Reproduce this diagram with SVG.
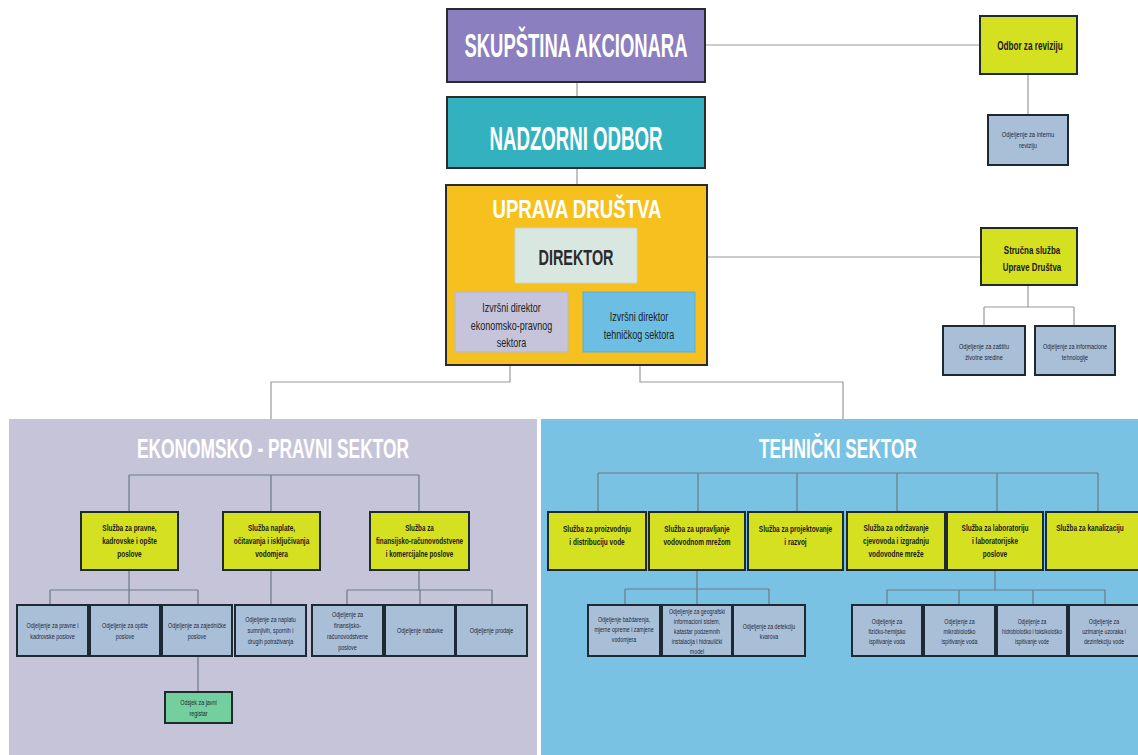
<svg xmlns="http://www.w3.org/2000/svg" width="1138" height="755" viewBox="0 0 1138 755">
<style>
.big{stroke:#2b2b2b;stroke-width:2}
.svc{fill:#d5e020;stroke:#1e2a2e;stroke-width:2}
.odj{fill:#a9bfd8;stroke:#1e2a33;stroke-width:2}
.ln{fill:none;stroke:#9a9a9a;stroke-width:1.2}
.lp{fill:none;stroke:#6c7b86;stroke-width:1.2}
.t{font-family:"Liberation Sans",Arial,sans-serif;text-anchor:middle}
.title{font-family:"Liberation Sans",Arial,sans-serif;font-weight:bold;text-anchor:middle;fill:#ffffff}
.st{font-family:"Liberation Sans",Arial,sans-serif;font-weight:bold;font-size:9px;fill:#1a1a1a;text-anchor:middle}
.ot{font-family:"Liberation Sans",Arial,sans-serif;font-size:7.5px;fill:#1d2738;text-anchor:middle}
.dt{font-family:"Liberation Sans",Arial,sans-serif;font-size:12px;fill:#222;text-anchor:middle}
.s12{font-size:12px}
.s11{font-size:11px}
.s8{font-size:8px}
</style>
<rect width="1138" height="755" fill="#ffffff"/>

<g id="panels">
<rect id="panel-ekonomsko" x="9" y="419" width="528" height="336" fill="#c6c4d8"/>
<rect id="panel-tehnicki" x="541" y="419" width="597" height="336" fill="#7ac2e3"/>
<text class="title" x="273" y="458" font-size="27" textLength="272" lengthAdjust="spacingAndGlyphs" fill="#f3f3f7">EKONOMSKO - PRAVNI SEKTOR</text>
<text class="title" x="838" y="458" font-size="27" textLength="158" lengthAdjust="spacingAndGlyphs" fill="#f3f3f7">TEHNIČKI SEKTOR</text>
</g>

<g id="connectors">
<path class="ln" d="M577 82V97M577 168V185M705 45H980M1028 74V115M637 257H981M1028 285V307M984 307H1074M984 307V326M1074 307V326"/>
<path class="ln" d="M510 352V382H271V419M640 352V382H843V419"/>
<path class="lp" d="M129 475H419M129 475V512M271 475V512M419 475V512"/>
<path class="lp" d="M129 570V605M50 590H198M50 590V605M198 590V605M198 656V692M271 570V605"/>
<path class="lp" d="M419 570V590M347 590H492M347 590V605M420 590V605M492 590V605"/>
<path class="lp" d="M598 473H1098M598 473V512M698 473V512M797 473V512M897 473V512M997 473V512M1098 473V512"/>
<path class="lp" d="M697 570V605M625 589H769M625 589V605M769 589V605"/>
<path class="lp" d="M995 570V590M887 590H1105M887 590V605M959 590V605M1033 590V605M1105 590V605"/>
</g>

<g id="skupstina">
<rect class="big" x="447" y="9" width="258" height="73" fill="#8c7fbf"/>
<text class="title" x="576" y="57" font-size="34" textLength="223" lengthAdjust="spacingAndGlyphs">SKUPŠTINA AKCIONARA</text>
</g>
<g id="nadzorni">
<rect class="big" x="447" y="97" width="258" height="71" fill="#33b1be"/>
<text class="title" x="576" y="150" font-size="33" textLength="173" lengthAdjust="spacingAndGlyphs">NADZORNI ODBOR</text>
</g>
<g id="uprava">
<rect class="big" x="446" y="185" width="261" height="180" fill="#f6c11e"/>
<text class="title" x="577" y="218" font-size="26" textLength="169" lengthAdjust="spacingAndGlyphs">UPRAVA DRUŠTVA</text>
</g>
<g id="direktor">
<rect x="515" y="228" width="122" height="55" fill="#d9e7e1" stroke="#c8d4cf" stroke-width="1"/>
<text class="t" x="576" y="265" font-size="22" font-weight="bold" fill="#2b2b2b" textLength="75" lengthAdjust="spacingAndGlyphs">DIREKTOR</text>
</g>
<g id="izvrsni-ek">
<rect x="455" y="292" width="113" height="60" fill="#c5c4da" stroke="#b8b7c9" stroke-width="1"/>
<g transform="translate(511.5 0) scale(0.75 1)"><text class="dt"><tspan x="0" y="312">Izvršni direktor</tspan><tspan x="0" y="330">ekonomsko-pravnog</tspan><tspan x="0" y="347">sektora</tspan></text></g>
</g>
<g id="izvrsni-teh">
<rect x="583" y="292" width="112" height="60" fill="#6cbee3" stroke="#5eaed2" stroke-width="1"/>
<g transform="translate(639 0) scale(0.75 1)"><text class="dt"><tspan x="0" y="321">Izvršni direktor</tspan><tspan x="0" y="339">tehničkog sektora</tspan></text></g>
</g>

<g id="odbor-revizija">
<rect class="svc" x="980" y="16" width="97" height="58"/>
<g transform="translate(1030 0) scale(0.68 1)"><text class="st s12" y="50" x="0">Odbor za reviziju</text></g>
</g>
<g id="interna-revizija">
<rect class="odj" x="988" y="115" width="80" height="50"/>
<g transform="translate(1028 0) scale(0.72 1)"><text class="ot s8"><tspan x="0" y="137">Odjeljenje za internu</tspan><tspan x="0" y="148">reviziju</tspan></text></g>
</g>
<g id="strucna-sluzba">
<rect class="svc" x="981" y="228" width="96" height="57"/>
<g transform="translate(1032 0) scale(0.72 1)"><text class="st s11"><tspan x="0" y="254">Stručna služba</tspan><tspan x="0" y="271">Uprave Društva</tspan></text></g>
</g>
<g id="zastita-sredine">
<rect class="odj" x="943" y="326" width="82" height="49"/>
<g transform="translate(984 0) scale(0.7 1)"><text class="ot s8"><tspan x="0" y="349">Odjeljenje za zaštitu</tspan><tspan x="0" y="360">životne sredine</tspan></text></g>
</g>
<g id="informacione-tehnologije">
<rect class="odj" x="1035" y="326" width="80" height="49"/>
<g transform="translate(1075 0) scale(0.68 1)"><text class="ot s8"><tspan x="0" y="349">Odjeljenje za informacione</tspan><tspan x="0" y="360">tehnologije</tspan></text></g>
</g>

<g id="sluzba-pravne">
<rect class="svc" x="81" y="512" width="97" height="58"/>
<g transform="translate(129.5 0) scale(0.72 1)"><text class="st"><tspan x="0" y="531">Služba za pravne,</tspan><tspan x="0" y="544">kadrovske i opšte</tspan><tspan x="0" y="557">poslove</tspan></text></g>
</g>
<g id="sluzba-naplate">
<rect class="svc" x="223" y="512" width="97" height="58"/>
<g transform="translate(271.5 0) scale(0.72 1)"><text class="st"><tspan x="0" y="531">Služba naplate,</tspan><tspan x="0" y="544">očitavanja i isključivanja</tspan><tspan x="0" y="557">vodomjera</tspan></text></g>
</g>
<g id="sluzba-finansije">
<rect class="svc" x="370" y="512" width="99" height="58"/>
<g transform="translate(419.5 0) scale(0.7 1)"><text class="st"><tspan x="0" y="531">Služba za</tspan><tspan x="0" y="544">finansijsko-računovodstvene</tspan><tspan x="0" y="557">i komercijalne poslove</tspan></text></g>
</g>

<g id="odj-pravne">
<rect class="odj" x="17" y="605" width="71" height="51"/>
<g transform="translate(52.5 0) scale(0.72 1)"><text class="ot"><tspan x="0" y="628">Odjeljenje za pravne i</tspan><tspan x="0" y="639">kadrovske poslove</tspan></text></g>
</g>
<g id="odj-opste">
<rect class="odj" x="90" y="605" width="70" height="51"/>
<g transform="translate(125 0) scale(0.72 1)"><text class="ot"><tspan x="0" y="628">Odjeljenje za opšte</tspan><tspan x="0" y="639">poslove</tspan></text></g>
</g>
<g id="odj-zajednicke">
<rect class="odj" x="162" y="605" width="70" height="51"/>
<g transform="translate(197 0) scale(0.72 1)"><text class="ot"><tspan x="0" y="628">Odjeljenje za zajedničke</tspan><tspan x="0" y="639">poslove</tspan></text></g>
</g>
<g id="odj-naplata">
<rect class="odj" x="235" y="605" width="71" height="51"/>
<g transform="translate(270.5 0) scale(0.72 1)"><text class="ot"><tspan x="0" y="622">Odjeljenje za naplatu</tspan><tspan x="0" y="633">sumnjivih, spornih i</tspan><tspan x="0" y="644">drugih potraživanja</tspan></text></g>
</g>
<g id="odj-finansijsko">
<rect class="odj" x="312" y="605" width="71" height="51"/>
<g transform="translate(347.5 0) scale(0.72 1)"><text class="ot"><tspan x="0" y="617">Odjeljenje za</tspan><tspan x="0" y="628">finansijsko-</tspan><tspan x="0" y="639">računovodstvene</tspan><tspan x="0" y="650">poslove</tspan></text></g>
</g>
<g id="odj-nabavke">
<rect class="odj" x="385" y="605" width="70" height="51"/>
<g transform="translate(420 0) scale(0.72 1)"><text class="ot" x="0" y="633">Odjeljenje nabavke</text></g>
</g>
<g id="odj-prodaje">
<rect class="odj" x="456" y="605" width="71" height="51"/>
<g transform="translate(491.5 0) scale(0.72 1)"><text class="ot" x="0" y="633">Odjeljenje prodaje</text></g>
</g>
<g id="odsjek-registar">
<rect x="165" y="692" width="67" height="31" fill="#74cf9e" stroke="#1e2a2e" stroke-width="2"/>
<g transform="translate(198.5 0) scale(0.72 1)"><text class="ot"><tspan x="0" y="705">Odsjek za javni</tspan><tspan x="0" y="716">registar</tspan></text></g>
</g>

<g id="sluzba-proizvodnja">
<rect class="svc" x="548" y="512" width="98" height="58"/>
<g transform="translate(597 0) scale(0.72 1)"><text class="st"><tspan x="0" y="532">Služba za proizvodnju</tspan><tspan x="0" y="545">i distribuciju vode</tspan></text></g>
</g>
<g id="sluzba-mreza">
<rect class="svc" x="649" y="512" width="96" height="58"/>
<g transform="translate(697 0) scale(0.72 1)"><text class="st"><tspan x="0" y="532">Služba za upravljanje</tspan><tspan x="0" y="545">vodovodnom mrežom</tspan></text></g>
</g>
<g id="sluzba-projektovanje">
<rect class="svc" x="748" y="512" width="95" height="58"/>
<g transform="translate(795.5 0) scale(0.72 1)"><text class="st"><tspan x="0" y="532">Služba za projektovanje</tspan><tspan x="0" y="545">i razvoj</tspan></text></g>
</g>
<g id="sluzba-odrzavanje">
<rect class="svc" x="847" y="512" width="98" height="58"/>
<g transform="translate(896 0) scale(0.72 1)"><text class="st"><tspan x="0" y="531">Služba za održavanje</tspan><tspan x="0" y="544">cjevovoda i izgradnju</tspan><tspan x="0" y="557">vodovodne mreže</tspan></text></g>
</g>
<g id="sluzba-laboratorija">
<rect class="svc" x="947" y="512" width="96" height="58"/>
<g transform="translate(995 0) scale(0.72 1)"><text class="st"><tspan x="0" y="531">Služba za laboratoriju</tspan><tspan x="0" y="544">i laboratorijske</tspan><tspan x="0" y="557">poslove</tspan></text></g>
</g>
<g id="sluzba-kanalizacija">
<rect class="svc" x="1046" y="512" width="96" height="58"/>
<g transform="translate(1090 0) scale(0.72 1)"><text class="st" x="0" y="531">Služba za kanalizaciju</text></g>
</g>

<g id="odj-bazdarenje">
<rect class="odj" x="588" y="605" width="72" height="51"/>
<g transform="translate(624 0) scale(0.7 1)"><text class="ot"><tspan x="0" y="622">Odjeljenje baždarenja,</tspan><tspan x="0" y="632">mjerne opreme i zamjene</tspan><tspan x="0" y="642">vodomjera</tspan></text></g>
</g>
<g id="odj-gis">
<rect class="odj" x="662" y="605" width="70" height="51"/>
<g transform="translate(697 0) scale(0.7 1)"><text class="ot"><tspan x="0" y="614">Odjeljenje za geografski</tspan><tspan x="0" y="624">informacioni sistem,</tspan><tspan x="0" y="634">katastar podzemnih</tspan><tspan x="0" y="644">instalacija i hidraulički</tspan><tspan x="0" y="654">model</tspan></text></g>
</g>
<g id="odj-detekcija">
<rect class="odj" x="733" y="605" width="72" height="51"/>
<g transform="translate(769 0) scale(0.7 1)"><text class="ot"><tspan x="0" y="629">Odjeljenje za detekciju</tspan><tspan x="0" y="639">kvarova</tspan></text></g>
</g>
<g id="odj-fizicko">
<rect class="odj" x="852" y="605" width="70" height="51"/>
<g transform="translate(887 0) scale(0.7 1)"><text class="ot"><tspan x="0" y="624">Odjeljenje za</tspan><tspan x="0" y="634">fizičko-hemijsko</tspan><tspan x="0" y="644">ispitivanje voda</tspan></text></g>
</g>
<g id="odj-mikrobiolosko">
<rect class="odj" x="924" y="605" width="71" height="51"/>
<g transform="translate(959.5 0) scale(0.7 1)"><text class="ot"><tspan x="0" y="624">Odjeljenje za</tspan><tspan x="0" y="634">mikrobiološko</tspan><tspan x="0" y="644">ispitivanje voda</tspan></text></g>
</g>
<g id="odj-hidrobiolosko">
<rect class="odj" x="997" y="605" width="70" height="51"/>
<g transform="translate(1032 0) scale(0.66 1)"><text class="ot"><tspan x="0" y="624">Odjeljenje za</tspan><tspan x="0" y="634">hidrobiološko i toksikološko</tspan><tspan x="0" y="644">ispitivanje vode</tspan></text></g>
</g>
<g id="odj-uzorci">
<rect class="odj" x="1069" y="605" width="72" height="51"/>
<g transform="translate(1104 0) scale(0.7 1)"><text class="ot"><tspan x="0" y="624">Odjeljenje za</tspan><tspan x="0" y="634">uzimanje uzoraka i</tspan><tspan x="0" y="644">dezinfekciju vode</tspan></text></g>
</g>
</svg>
